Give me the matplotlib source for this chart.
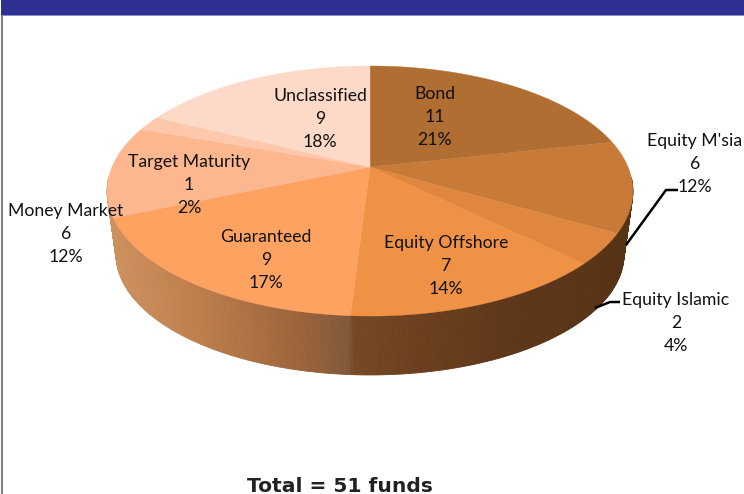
import numpy as np
import matplotlib
matplotlib.use("Agg")
import matplotlib.pyplot as plt
from matplotlib.patches import Polygon, Rectangle

plt.rcParams['font.family'] = ['Lato', 'DejaVu Sans']

names = ["Bond", "Equity M'sia", "Equity Islamic", "Equity Offshore",
         "Guaranteed", "Money Market", "Target Maturity", "Unclassified"]
funds = [11, 6, 2, 7, 9, 6, 1, 9]
shares = ["21%", "12%", "4%", "14%", "17%", "12%", "2%", "18%"]
total_label = "Total = 51 funds"

# styles and layout, in image pixels
top_colors = ['#b06e32', '#c87a38', '#e0873f', '#ef9245',
              '#fea262', '#fdb78f', '#fdc8ab', '#fdd9c7']
label_xy = [(435, 117), (695, 164), (676, 323), (446, 266),
            (266, 260), (66, 234), (189, 185), (320, 119)]
wall_x = [116, 200, 300, 349, 352, 430, 520, 640]
wall_rgb = [(205, 145, 95), (190, 125, 75), (155, 100, 60), (130, 88, 56),
            (118, 72, 36), (106, 62, 28), (92, 54, 24), (86, 50, 20)]

W, H = 744, 494
cx, cy = 370, 167
a, b, k = 258, 120.4, 0.192   # perspective disc
drop, shrink = 64, 0.966      # bottom rim of the pie


def project(theta, r=1.0, dy=0.0, s=1.0):
    u = r * np.sin(theta)
    v = -r * np.cos(theta)
    d = 1 - k * v
    return cx + s * a * u / d, cy + dy + s * b * v / d


fig = plt.figure(figsize=(W / 100, H / 100), dpi=100)
ax = fig.add_axes([0, 0, 1, 1])
ax.set_xlim(0, W)
ax.set_ylim(H, 0)
ax.axis('off')

ax.add_patch(Rectangle((1, 0), W, 15, fc='#2e3192', ec='none'))
ax.add_patch(Rectangle((1, 15), W, 1, fc='#8a8cc4', ec='none'))
ax.add_patch(Rectangle((1, 15), 1.6, H, fc='#808080', ec='none'))

# side wall, colour runs left to right
edges = np.cumsum([0] + funds) / sum(funds) * 2 * np.pi
thetas = np.linspace(np.radians(95), np.radians(265), 340)
for t0, t1 in zip(thetas[:-1], thetas[1:]):
    x0, y0 = project(t0)
    x1, y1 = project(t1)
    x2, y2 = project(t1, dy=drop, s=shrink)
    x3, y3 = project(t0, dy=drop, s=shrink)
    xm = (x0 + x1 + x2 + x3) / 4
    c = [np.interp(xm, wall_x, [p[i] for p in wall_rgb]) / 255 for i in range(3)]
    ax.add_patch(Polygon([(x0, y0), (x1, y1), (x2, y2), (x3, y3)], fc=c, ec=c, lw=0.6))

# top face
for i in range(len(funds)):
    ts = np.linspace(edges[i], edges[i + 1], 80)
    xs, ys = project(ts)
    pts = [(cx, cy)] + list(zip(xs, ys))
    ax.add_patch(Polygon(pts, fc=top_colors[i], ec=top_colors[i], lw=0.3))

# leader lines
ax.plot([626, 666, 678], [245, 190, 190], color='black', lw=1.8, solid_capstyle='butt')
ax.plot([595, 610, 620], [308, 302, 302], color='black', lw=1.8, solid_capstyle='butt')

for i in range(len(names)):
    ax.text(label_xy[i][0], label_xy[i][1], f"{names[i]}\n{funds[i]}\n{shares[i]}",
            ha='center', va='center', fontsize=12.7, linespacing=1.56, color='#111111')

ax.text(340, 486, total_label, ha='center', va='center', fontsize=14.6,
        fontweight='bold', family='DejaVu Sans', color='#222222')

fig.savefig('out.png', dpi=100)
